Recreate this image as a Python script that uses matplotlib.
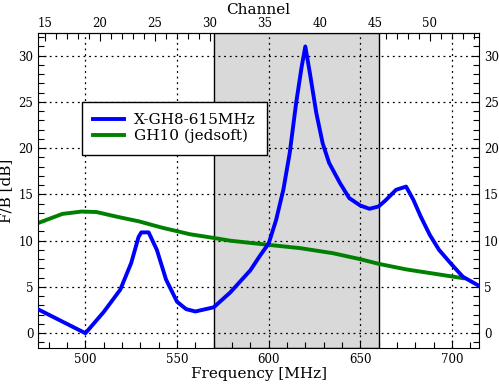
import matplotlib
matplotlib.use('Agg')
import matplotlib.pyplot as plt
from matplotlib.ticker import MultipleLocator

# F/B of the two antennas
freq_xgh8 = [474, 487, 500, 510, 519, 525, 529, 530.5, 534.5, 539, 544, 550, 555, 560,
             570, 579, 590, 595, 600, 604, 608, 611.5, 615, 618, 620, 622.5, 626, 629.5,
             633, 639, 644, 650, 655, 660, 664, 669.5, 675, 679, 683, 688, 693, 700, 706, 714.5]
fb_xgh8 = [2.6, 1.3, 0.0, 2.3, 4.7, 7.6, 10.4, 10.9, 10.9, 9.0, 5.8, 3.4, 2.6, 2.35,
           2.8, 4.4, 6.8, 8.3, 9.7, 12.2, 15.5, 19.5, 24.9, 28.8, 31.0, 28.1, 23.8, 20.5,
           18.4, 16.2, 14.6, 13.8, 13.45, 13.7, 14.4, 15.5, 15.85, 14.4, 12.6, 10.6, 9.0, 7.4, 6.1, 5.15]

freq_gh10 = [474, 487.5, 498, 506, 517, 529, 542, 557, 570, 579, 600, 617, 635, 650, 660, 675, 693, 706]
fb_gh10 = [11.9, 12.9, 13.15, 13.1, 12.6, 12.1, 11.4, 10.7, 10.3, 10.0, 9.55, 9.2, 8.65, 8.0,
           7.5, 6.9, 6.35, 5.95]

band = (570, 660)
channel_ticks = [15, 20, 25, 30, 35, 40, 45, 50]

plt.rcParams['font.family'] = 'DejaVu Serif'

fig = plt.figure(figsize=(4.99, 3.86), dpi=100)
ax = fig.add_axes([0.0768, 0.0984, 0.8832, 0.8161])

ax.axvspan(band[0], band[1], facecolor='#d9d9d9', edgecolor='black', linewidth=1, zorder=0.2)
ax.plot(freq_xgh8, fb_xgh8, color='#0000ff', lw=2.8, label='X-GH8-615MHz', zorder=3)
ax.plot(freq_gh10, fb_gh10, color='#008000', lw=2.8, label='GH10 (jedsoft)', zorder=2)

ax.set_xlim(474.3, 714.8)
ax.set_ylim(-1.6, 32.45)
ax.xaxis.set_major_locator(MultipleLocator(50))
ax.xaxis.set_minor_locator(MultipleLocator(10))
ax.yaxis.set_major_locator(MultipleLocator(5))
ax.yaxis.set_minor_locator(MultipleLocator(1))
ax.set_axisbelow(True)
ax.grid(True, which='major', color='black', linestyle=(0, (1.5, 3)), linewidth=0.9)

ax.tick_params(which='both', direction='in', right=True, labelright=True, top=False,
               labelsize=8.5, width=0.8)
ax.tick_params(which='major', length=6)
ax.tick_params(which='minor', length=4.5)

ax.set_xlabel('Frequency [MHz]', fontsize=11, labelpad=1)
ax.set_ylabel('F/B [dB]', fontsize=11, labelpad=4)

top = ax.secondary_xaxis('top', functions=(lambda f: (f - 388) / 6.0, lambda c: c * 6.0 + 388))
top.set_xticks(channel_ticks)
top.xaxis.set_minor_locator(MultipleLocator(1))
top.tick_params(which='both', direction='in', labelsize=8.5, width=0.8, pad=2)
top.tick_params(which='major', length=6)
top.tick_params(which='minor', length=4.5)
top.set_xlabel('Channel', fontsize=11, labelpad=2)

leg = ax.legend(loc='upper left', bbox_to_anchor=(0.098, 0.782), fontsize=11,
                fancybox=False, framealpha=1, edgecolor='black', handlelength=2.0,
                borderpad=0.75, labelspacing=0.1, borderaxespad=0, handletextpad=0.7)
leg.get_frame().set_linewidth(1)

fig.savefig('out.png', dpi=100)
